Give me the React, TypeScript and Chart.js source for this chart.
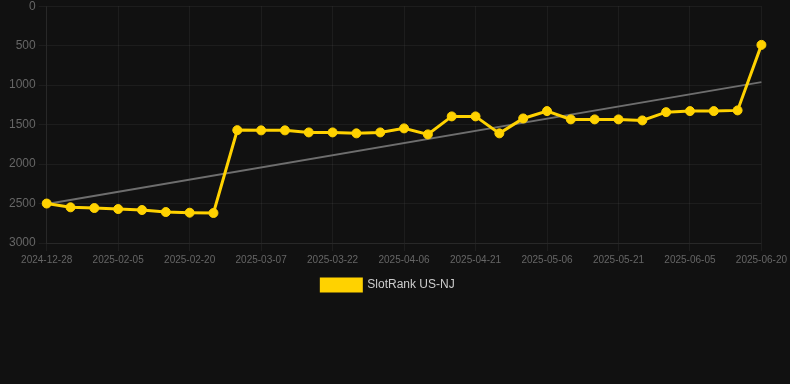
import React, { useEffect, useRef } from "react";
import { Chart, registerables } from "chart.js";

Chart.register(...registerables);

const labels: string[] = [
  "2024-12-28", "2025-01-26", "2025-01-31", "2025-02-05", "2025-02-10", "2025-02-15",
  "2025-02-20", "2025-02-25", "2025-03-02", "2025-03-07", "2025-03-12", "2025-03-17",
  "2025-03-22", "2025-03-27", "2025-04-01", "2025-04-06", "2025-04-11", "2025-04-16",
  "2025-04-21", "2025-04-26", "2025-05-01", "2025-05-06", "2025-05-11", "2025-05-16",
  "2025-05-21", "2025-05-26", "2025-05-31", "2025-06-05", "2025-06-10", "2025-06-15",
  "2025-06-20",
];

const rankValues: number[] = [
  2500, 2548, 2557, 2570, 2582, 2608, 2616, 2620, 1570, 1573, 1573, 1599,
  1599, 1611, 1599, 1548, 1624, 1396, 1396, 1611, 1422, 1329, 1434, 1434,
  1434, 1447, 1342, 1329, 1329, 1320, 490,
];

// trend line end points (first and last category)
const trendEnds: number[] = [2505, 962];

const yTicks = { min: 0, max: 3000, step: 500 };

const FONT = "Arial, 'Liberation Sans', Helvetica, sans-serif";

export default function App() {
  const ref = useRef<HTMLCanvasElement | null>(null);

  useEffect(() => {
    document.body.style.margin = "0";
    document.body.style.background = "#111111";
    const trendData: (number | null)[] = labels.map((_, i) =>
      i === 0 ? trendEnds[0] : i === labels.length - 1 ? trendEnds[1] : null
    );
    const chart = new Chart(ref.current as HTMLCanvasElement, {
      type: "line",
      data: {
        labels,
        datasets: [
          {
            label: "SlotRank US-NJ",
            data: rankValues,
            borderColor: "#FFD200",
            backgroundColor: "#FFD200",
            borderWidth: 3,
            pointRadius: 4.5,
            pointBorderWidth: 1,
            pointBackgroundColor: "#FFD200",
            pointBorderColor: "#FFD200",
            tension: 0,
            order: 1,
          },
          {
            label: "trend",
            data: trendData,
            borderColor: "#6e6e6e",
            backgroundColor: "#6e6e6e",
            borderWidth: 2,
            pointRadius: 0,
            spanGaps: true,
            order: 2,
          },
        ],
      },
      options: {
        animation: false,
        responsive: false,
        maintainAspectRatio: false,
        layout: { padding: { left: 6, right: 20 } },
        plugins: {
          legend: {
            position: "bottom",
            labels: {
              color: "#cccccc",
              font: { size: 12, family: FONT },
              filter: (item) => item.text !== "trend",
            },
          },
          tooltip: { enabled: false },
        },
        scales: {
          x: {
            grid: { color: "rgba(255,255,255,0.05)" },
            border: { color: "rgba(255,255,255,0.05)" },
            ticks: {
              color: "#666666",
              font: { size: 10, family: FONT },
              maxRotation: 0,
              autoSkip: true,
              maxTicksLimit: 11,
            },
          },
          y: {
            reverse: true,
            min: yTicks.min,
            max: yTicks.max,
            grid: { color: "rgba(255,255,255,0.05)" },
            border: { color: "rgba(255,255,255,0.05)" },
            ticks: {
              stepSize: yTicks.step,
              color: "#666666",
              font: { size: 12, family: FONT },
              callback: (v) => String(v),
            },
          },
        },
      },
    });
    return () => chart.destroy();
  }, []);

  return (
    <div style={{ width: 790, height: 384, background: "#111111", overflow: "hidden" }}>
      <canvas
        ref={ref}
        width={790}
        height={305}
        style={{ display: "block", position: "relative", top: -4 }}
      />
    </div>
  );
}
